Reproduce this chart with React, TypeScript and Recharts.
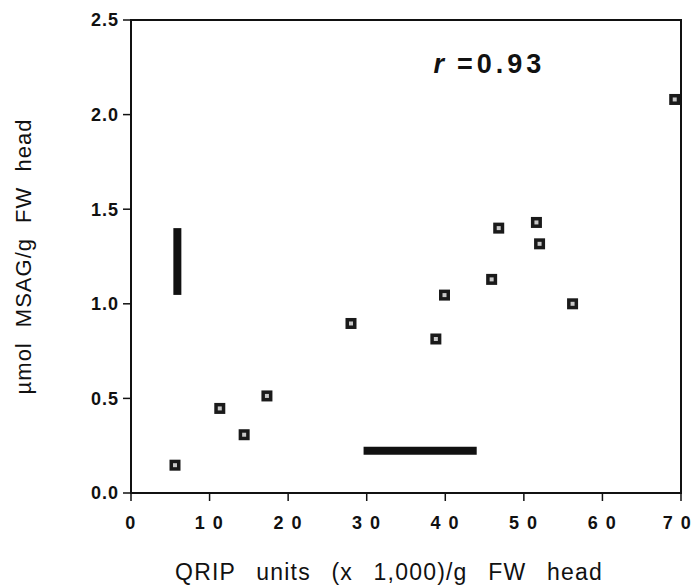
import React from 'react';
import {
  ScatterChart,
  Scatter,
  XAxis,
  YAxis,
  ReferenceArea,
  ReferenceLine,
  ReferenceDot,
} from 'recharts';

// QRIP units (x 1,000)/g FW head
const qripValues = [5.6, 11.3, 14.4, 17.3, 28.0, 38.8, 39.9, 45.9, 46.8, 51.6, 52.0, 56.2, 69.2];
// µmol MSAG/g FW head
const msagValues = [0.147, 0.447, 0.308, 0.513, 0.896, 0.814, 1.046, 1.129, 1.4, 1.43, 1.317, 1.0, 2.08];

const X_TICKS = [0, 10, 20, 30, 40, 50, 60, 70];
const X_TICK_LABELS = ['0', '1 0', '2 0', '3 0', '4 0', '5 0', '6 0', '7 0'];
const Y_TICKS = [0, 0.5, 1.0, 1.5, 2.0, 2.5];
const Y_TICK_LABELS = ['0.0', '0.5', '1.0', '1.5', '2.0', '2.5'];

// error/range bars
const vBarX = 5.9;
const vBarY = [1.047, 1.4];
const hBarY = 0.223;
const hBarX = [29.6, 44.0];

// annotation
const annotX = 38.5;
const annotY = 2.27;
const annotText = '=0.93';

const points = qripValues.map((x, i) => ({ x, y: msagValues[i] }));

const FONT = '"Liberation Sans", Arial, Helvetica, sans-serif';

const SquareMarker = (props: any) => {
  const { cx, cy } = props;
  if (cx == null || cy == null) return null;
  return (
    <g>
      <rect x={cx - 5.5} y={cy - 5.5} width={11} height={11} fill="#1a1a1a" />
      <rect x={cx - 2} y={cy - 2} width={4} height={4} fill="#c8c8c8" />
    </g>
  );
};

const Annotation = (props: any) => {
  const { cx, cy } = props;
  return (
    <text
      x={cx}
      y={cy}
      dominantBaseline="central"
      fontFamily={FONT}
      fontSize={27}
      fontWeight="bold"
      fill="#111"
      letterSpacing={4}
    >
      <tspan fontStyle="italic">r</tspan>
      <tspan dx={9}>{annotText}</tspan>
    </text>
  );
};

export default function App() {
  return (
    <div style={{ position: 'absolute', left: 0, top: 0, background: '#fff' }}>
      <ScatterChart
        width={691}
        height={588}
        margin={{ top: 20, right: 10, bottom: 0, left: 0 }}
      >
        <XAxis
          type="number"
          dataKey="x"
          domain={[0, 70]}
          ticks={X_TICKS}
          tickFormatter={(v: number, i: number) => X_TICK_LABELS[i]}
          height={95}
          axisLine={{ stroke: '#111', strokeWidth: 2 }}
          tickLine={{ stroke: '#111', strokeWidth: 1.5 }}
          tickSize={8}
          tickMargin={15}
          tick={{ fill: '#111', fontSize: 18, fontWeight: 'bold', fontFamily: FONT, letterSpacing: 1.5 }}
          label={{
            content: (p: any) => {
              const vb = p.viewBox;
              return (
                <text
                  x={vb.x + vb.width / 2 - 17}
                  y={vb.y + 87}
                  textAnchor="middle"
                  fontFamily={FONT}
                  fontSize={23}
                  fill="#111"
                  letterSpacing={1.2}
                  wordSpacing={13}
                >
                  QRIP units (x 1,000)/g FW head
                </text>
              );
            },
          }}
        />
        <YAxis
          type="number"
          dataKey="y"
          domain={[0, 2.5]}
          ticks={Y_TICKS}
          tickFormatter={(v: number, i: number) => Y_TICK_LABELS[i]}
          width={131}
          axisLine={{ stroke: '#111', strokeWidth: 2 }}
          tickLine={{ stroke: '#111', strokeWidth: 1.5 }}
          tickSize={8}
          tickMargin={4}
          tick={{ fill: '#111', fontSize: 18, fontWeight: 'bold', fontFamily: FONT, letterSpacing: 1 }}
          label={{
            content: (p: any) => {
              const vb = p.viewBox;
              const cx = vb.x + 23;
              const cy = vb.y + vb.height / 2;
              return (
                <text
                  x={cx}
                  y={cy}
                  transform={`rotate(-90 ${cx} ${cy})`}
                  textAnchor="middle"
                  dominantBaseline="central"
                  fontFamily={FONT}
                  fontSize={22}
                  fill="#111"
                  letterSpacing={1}
                  wordSpacing={8}
                >
                  µmol MSAG/g FW head
                </text>
              );
            },
          }}
        />
        <ReferenceArea
          x1={0}
          x2={70}
          y1={0}
          y2={2.5}
          fill="none"
          stroke="#111"
          strokeWidth={2}
          ifOverflow="visible"
        />
        <ReferenceLine
          segment={[
            { x: vBarX, y: vBarY[0] },
            { x: vBarX, y: vBarY[1] },
          ]}
          stroke="#111"
          strokeWidth={8}
        />
        <ReferenceLine
          segment={[
            { x: hBarX[0], y: hBarY },
            { x: hBarX[1], y: hBarY },
          ]}
          stroke="#111"
          strokeWidth={8}
        />
        <ReferenceDot x={annotX} y={annotY} r={0} shape={Annotation} />
        <Scatter data={points} shape={SquareMarker} isAnimationActive={false} />
      </ScatterChart>
    </div>
  );
}
